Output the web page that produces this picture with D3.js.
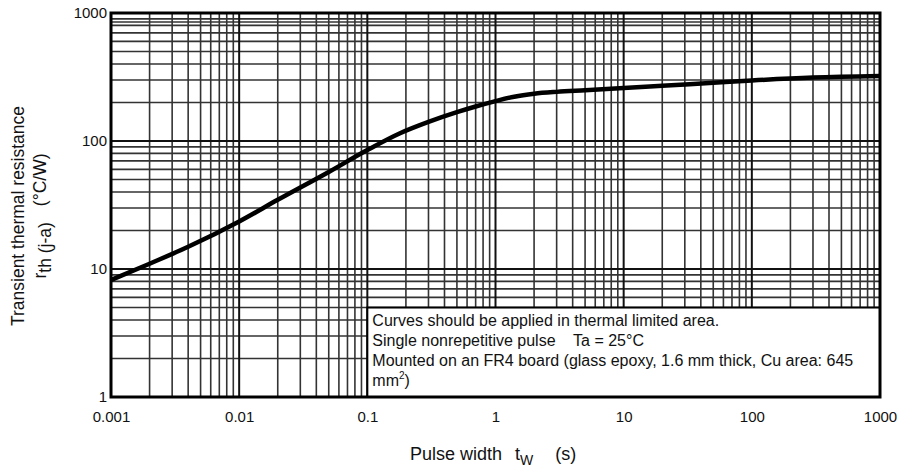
<!DOCTYPE html>
<html>
<head>
<meta charset="utf-8">
<script src="https://cdn.jsdelivr.net/npm/d3@7"></script>
<style>
  html, body { margin: 0; padding: 0; background: #fff; }
  svg { display: block; font-family: "Liberation Sans", Arial, sans-serif; }
  text { white-space: pre; }
</style>
</head>
<body>
<svg id="chart" width="900" height="468"></svg>
<script>
// ---- data ----
const pulseWidth = [0.001, 0.002, 0.004, 0.01, 0.02, 0.05, 0.1, 0.18, 0.3, 0.5, 0.7, 1,   1.4, 2,   3,   5,   10,  20,  50,  100, 300, 1000];
const rth        = [8.2,   11.0,  14.9,  23.5, 34.7, 57.3, 85,  115,  141, 168, 186, 205, 222, 234, 242, 249, 259, 270, 285, 297, 313, 322];
const xTickValues = [0.001, 0.01, 0.1, 1, 10, 100, 1000];
const xTickLabels = ["0.001", "0.01", "0.1", "1", "10", "100", "1000"];
const yTickValues = [1, 10, 100, 1000];
const yTickLabels = ["1", "10", "100", "1000"];
const extraGridY = [850];
const noteLines = [
  "Curves should be applied in thermal limited area.",
  "Single nonrepetitive pulse    Ta = 25°C",
  "Mounted on an FR4 board (glass epoxy, 1.6 mm thick, Cu area: 645"
];
const noteBox = { x0: 0.1, x1: 1000, y0: 1, y1: 5 };

// ---- layout ----
const L = 111, R = 880, T = 13, B = 397;
const svg = d3.select("#chart");
const x = d3.scaleLog().domain([0.001, 1000]).range([L, R]);
const y = d3.scaleLog().domain([1, 1000]).range([B, T]);

const minorX = [], minorY = [];
for (let e = -3; e < 3; e++) for (let m = 2; m <= 9; m++) minorX.push(m * Math.pow(10, e));
for (let e = 0; e < 3; e++) for (let m = 2; m <= 9; m++) minorY.push(m * Math.pow(10, e));
extraGridY.forEach(v => minorY.push(v));

const g = svg.append("g");
g.selectAll("line.mx").data(minorX).enter().append("line")
  .attr("x1", d => x(d)).attr("x2", d => x(d)).attr("y1", T).attr("y2", B)
  .attr("stroke", "#333").attr("stroke-width", 1.6);
g.selectAll("line.my").data(minorY).enter().append("line")
  .attr("x1", L).attr("x2", R).attr("y1", d => y(d)).attr("y2", d => y(d))
  .attr("stroke", "#333").attr("stroke-width", 1.6);
g.selectAll("line.Mx").data(xTickValues).enter().append("line")
  .attr("x1", d => x(d)).attr("x2", d => x(d)).attr("y1", T).attr("y2", B)
  .attr("stroke", "#111").attr("stroke-width", 2);
g.selectAll("line.My").data(yTickValues).enter().append("line")
  .attr("x1", L).attr("x2", R).attr("y1", d => y(d)).attr("y2", d => y(d))
  .attr("stroke", "#111").attr("stroke-width", 2);

// curve
const pts = pulseWidth.map((d, i) => [d, rth[i]]);
svg.append("path").datum(pts)
  .attr("fill", "none").attr("stroke", "#000").attr("stroke-width", 4.5)
  .attr("stroke-linejoin", "round")
  .attr("d", d3.line().x(d => x(d[0])).y(d => y(d[1])).curve(d3.curveMonotoneX));

// note box
const bx = x(noteBox.x0), by = y(noteBox.y1);
svg.append("rect").attr("x", bx).attr("y", by)
  .attr("width", x(noteBox.x1) - bx).attr("height", y(noteBox.y0) - by)
  .attr("fill", "#fff").attr("stroke", "#000").attr("stroke-width", 2);
const noteG = svg.append("g").attr("font-size", 16).attr("fill", "#111");
noteLines.forEach((t, i) => {
  noteG.append("text").attr("x", bx + 5).attr("y", by + 18 + i * 20).text(t);
});
const lastLine = noteG.append("text").attr("x", bx + 5).attr("y", by + 18 + 3 * 20);
lastLine.append("tspan").text("mm");
lastLine.append("tspan").attr("font-size", 10).attr("dy", -7).text("2");
lastLine.append("tspan").attr("dy", 7).text(")");

// frame
svg.append("rect").attr("x", L).attr("y", T).attr("width", R - L).attr("height", B - T)
  .attr("fill", "none").attr("stroke", "#000").attr("stroke-width", 3);

// axes labels
const xAxis = d3.axisBottom(x).tickValues(xTickValues)
  .tickFormat((d, i) => xTickLabels[i]).tickSize(0).tickPadding(14);
const xg = svg.append("g").attr("transform", `translate(0,${B})`).call(xAxis);
xg.select(".domain").remove();
xg.selectAll("text").attr("font-size", 15).attr("fill", "#111")
  .attr("font-family", "Liberation Sans, Arial, sans-serif");

const yAxis = d3.axisLeft(y).tickValues(yTickValues)
  .tickFormat((d, i) => yTickLabels[i]).tickSize(0).tickPadding(4);
const yg = svg.append("g").attr("transform", `translate(${L},0)`).call(yAxis);
yg.select(".domain").remove();
yg.selectAll("text").attr("font-size", 15).attr("fill", "#111")
  .attr("font-family", "Liberation Sans, Arial, sans-serif");

// x title
const xt = svg.append("text").attr("x", 410).attr("y", 460).attr("font-size", 18).attr("fill", "#111");
xt.append("tspan").text("Pulse width");
xt.append("tspan").attr("dx", 13).text("t");
xt.append("tspan").attr("font-size", 14).attr("dy", 5).text("W");
xt.append("tspan").attr("dy", -5).attr("dx", 22).text("(s)");

// y title
const ycx = 216;
svg.append("text").attr("transform", `translate(24,${ycx}) rotate(-90)`)
  .attr("text-anchor", "middle").attr("font-size", 17.5).attr("fill", "#111")
  .text("Transient thermal resistance");
const yt2 = svg.append("text").attr("transform", `translate(46,${ycx}) rotate(-90)`)
  .attr("text-anchor", "middle").attr("font-size", 17.5).attr("fill", "#111");
yt2.append("tspan").text("r");
yt2.append("tspan").attr("dy", 5).text("th (j-a)");
yt2.append("tspan").attr("dy", -5).attr("dx", 16).text("(°C/W)");
</script>
</body>
</html>
